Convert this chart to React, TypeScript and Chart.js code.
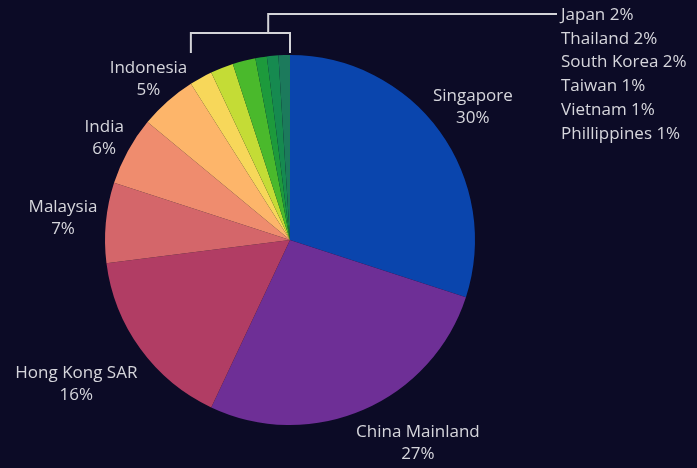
import { useEffect, useRef } from "react";
import { Chart, registerables } from "chart.js";

Chart.register(...registerables);

const regions = [
  "Singapore",
  "China Mainland",
  "Hong Kong SAR",
  "Malaysia",
  "India",
  "Indonesia",
  "Japan",
  "Thailand",
  "South Korea",
  "Taiwan",
  "Vietnam",
  "Phillippines",
];
const shares = [30, 27, 16, 7, 6, 5, 2, 2, 2, 1, 1, 1];
const sliceColors = [
  "#0a45ad",
  "#6e2f96",
  "#b13d64",
  "#d4666a",
  "#ef8c6e",
  "#fdb56a",
  "#f7d75a",
  "#c4dc36",
  "#4ab92c",
  "#1d9a3c",
  "#168a50",
  "#1c7a5c",
];

// number of big slices labelled around the pie; rest go in the bracket list
const BIG_COUNT = 6;
// per-label radial distance of label centre from pie centre, and angle tweak (deg)
const labelLayout = [
  { r: 226, da: 0 },
  { r: 240, da: -8.8 },
  { r: 258, da: 1.9 },
  { r: 228, da: 0 },
  { r: 212, da: 0 },
  { r: 214, da: 0 },
];

const BG = "#0c0b26";
const TEXT = "#d6d6dc";
const FONT = '17px "Open Sans", sans-serif';

const labelPlugin = {
  id: "pieLabels",
  afterDraw(chart: any) {
    const ctx = chart.ctx as CanvasRenderingContext2D;
    const meta = chart.getDatasetMeta(0);
    const arcs = meta.data;
    const data = chart.data.datasets[0].data as number[];
    const total = data.reduce((a, b) => a + b, 0);
    ctx.save();
    ctx.font = FONT;
    ctx.fillStyle = TEXT;
    ctx.textBaseline = "middle";
    ctx.textAlign = "center";
    for (let i = 0; i < BIG_COUNT; i++) {
      const a: any = arcs[i];
      const p = a.getProps(["x", "y", "startAngle", "endAngle", "outerRadius"], true);
      const mid = (p.startAngle + p.endAngle) / 2 + (labelLayout[i].da * Math.PI) / 180;
      const cx = p.x + Math.cos(mid) * labelLayout[i].r;
      const cy = p.y + Math.sin(mid) * labelLayout[i].r;
      const pct = Math.round((data[i] / total) * 100) + "%";
      ctx.fillText(String(chart.data.labels[i]), cx, cy - 11);
      ctx.fillText(pct, cx, cy + 11);
    }

    // bracket for small slices
    const first: any = arcs[BIG_COUNT];
    const last: any = arcs[arcs.length - 1];
    const pf = first.getProps(["x", "y", "startAngle", "outerRadius"], true);
    const pl = last.getProps(["x", "y", "endAngle", "outerRadius"], true);
    const leftX = pf.x + Math.cos(pf.startAngle) * pf.outerRadius;
    const rightX = pl.x + Math.cos(pl.endAngle) * pl.outerRadius;
    const top = pf.y - pf.outerRadius;
    const bracketY = top - 22;
    const jointX = leftX + (rightX - leftX) * 0.78;
    const listX = 561;
    const listY0 = 15;
    const step = 23.8;
    ctx.strokeStyle = "#d4d4d8";
    ctx.lineWidth = 2;
    ctx.beginPath();
    ctx.moveTo(leftX, top - 2);
    ctx.lineTo(leftX, bracketY);
    ctx.lineTo(rightX, bracketY);
    ctx.lineTo(rightX, top - 2);
    ctx.moveTo(jointX, bracketY);
    ctx.lineTo(jointX, listY0 - 1);
    ctx.lineTo(listX - 4, listY0 - 1);
    ctx.stroke();

    ctx.textAlign = "left";
    for (let i = BIG_COUNT; i < data.length; i++) {
      const pct = Math.round((data[i] / total) * 100) + "%";
      ctx.fillText(
        String(chart.data.labels[i]) + " " + pct,
        listX,
        listY0 + (i - BIG_COUNT) * step
      );
    }
    ctx.restore();
  },
};

export default function App() {
  const ref = useRef<HTMLCanvasElement | null>(null);
  useEffect(() => {
    if (!ref.current) return;
    const chart = new Chart(ref.current, {
      type: "pie",
      data: {
        labels: regions,
        datasets: [
          {
            data: shares,
            backgroundColor: sliceColors,
            borderWidth: 0,
          },
        ],
      },
      options: {
        responsive: false,
        maintainAspectRatio: false,
        animation: false,
        devicePixelRatio: 1,
        layout: { padding: { left: 105, right: 222, top: 55, bottom: 43 } },
        plugins: {
          legend: { display: false },
          tooltip: { enabled: false },
        },
      },
      plugins: [labelPlugin],
    });
    return () => chart.destroy();
  }, []);
  return (
    <div
      style={{
        position: "absolute",
        left: 0,
        top: 0,
        width: 697,
        height: 468,
        background: BG,
      }}
    >
      <canvas ref={ref} width={697} height={468} style={{ display: "block" }} />
    </div>
  );
}
